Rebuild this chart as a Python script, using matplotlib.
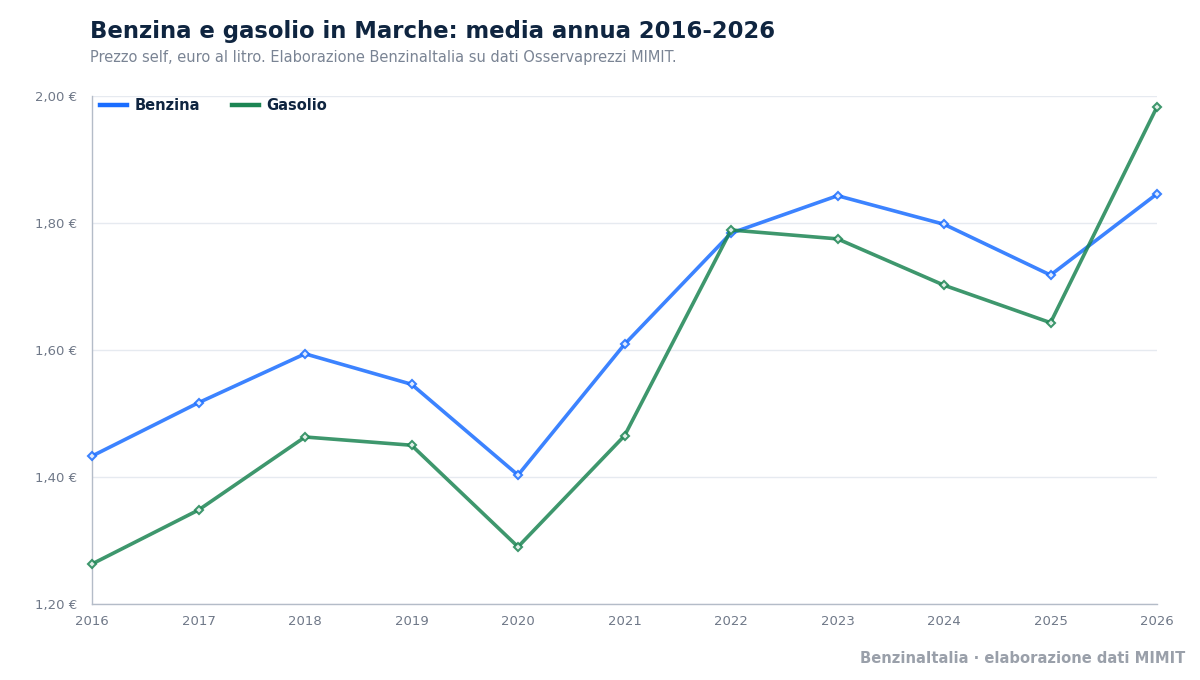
import matplotlib
matplotlib.use("Agg")
import matplotlib.pyplot as plt
from matplotlib.ticker import FuncFormatter

# dati (media annua, euro/litro)
anni = [2016, 2017, 2018, 2019, 2020, 2021, 2022, 2023, 2024, 2025, 2026]
benzina = [1.433, 1.517, 1.594, 1.546, 1.403, 1.609, 1.784, 1.843, 1.798, 1.718, 1.846]
gasolio = [1.263, 1.348, 1.463, 1.450, 1.290, 1.465, 1.789, 1.775, 1.702, 1.643, 1.983]
y_ticks = [1.20, 1.40, 1.60, 1.80, 2.00]

col_benz = "#1a6dff"
col_gas = "#1c8553"
navy = "#0f2540"
grigio = "#6f7888"

plt.rcParams['font.family'] = ['DejaVu Sans']

fig = plt.figure(figsize=(12, 6.8), dpi=100)
ax = fig.add_axes([0.0767, 0.1118, 0.8875, 0.747])

ax.plot(anni, benzina, color=col_benz, lw=2.6, alpha=0.85, label="Benzina",
        marker="D", ms=4.5, mfc="white", mec=col_benz, mew=1.5, zorder=3,
        clip_on=False)
ax.plot(anni, gasolio, color=col_gas, lw=2.6, alpha=0.85, label="Gasolio",
        marker="D", ms=4.5, mfc="white", mec=col_gas, mew=1.5, zorder=3,
        clip_on=False)

ax.set_xlim(anni[0], anni[-1])
ax.set_ylim(1.20, 2.00)
ax.set_xticks(anni)
ax.set_yticks(y_ticks)
ax.yaxis.set_major_formatter(FuncFormatter(lambda v, p: f"{v:.2f} €".replace(".", ",")))
ax.tick_params(length=0, labelsize=9.5, labelcolor=grigio)
ax.tick_params(axis="x", pad=8)
ax.tick_params(axis="y", pad=11)
ax.grid(axis="y", color="#e6eaf0", lw=1)
ax.set_axisbelow(True)
for s in ["top", "right"]:
    ax.spines[s].set_visible(False)
for s in ["left", "bottom"]:
    ax.spines[s].set_color("#b4bcc8")
    ax.spines[s].set_linewidth(1)

leg = ax.legend(loc="upper left", ncol=2, frameon=False, fontsize=10.5,
                handlelength=1.85, handletextpad=0.5, columnspacing=2.2,
                borderaxespad=0, bbox_to_anchor=(0.002, 1.008))
for t in leg.get_texts():
    t.set_color(navy)
    t.set_fontweight("bold")
for h in leg.get_lines():
    h.set_alpha(1)
    h.set_marker("")
    h.set_linewidth(3.2)

fig.text(0.075, 0.953, "Benzina e gasolio in Marche: media annua 2016-2026",
         fontsize=16.35, fontweight="bold", color=navy, va="center")
fig.text(0.075, 0.915, "Prezzo self, euro al litro. Elaborazione BenzinaItalia su dati Osservaprezzi MIMIT.",
         fontsize=10.5, color="#7a8494", va="center")
fig.text(0.988, 0.031, "BenzinaItalia · elaborazione dati MIMIT",
         fontsize=10.6, fontweight="bold", color="#9aa0aa", ha="right", va="center")

fig.savefig("out.png", dpi=100)
